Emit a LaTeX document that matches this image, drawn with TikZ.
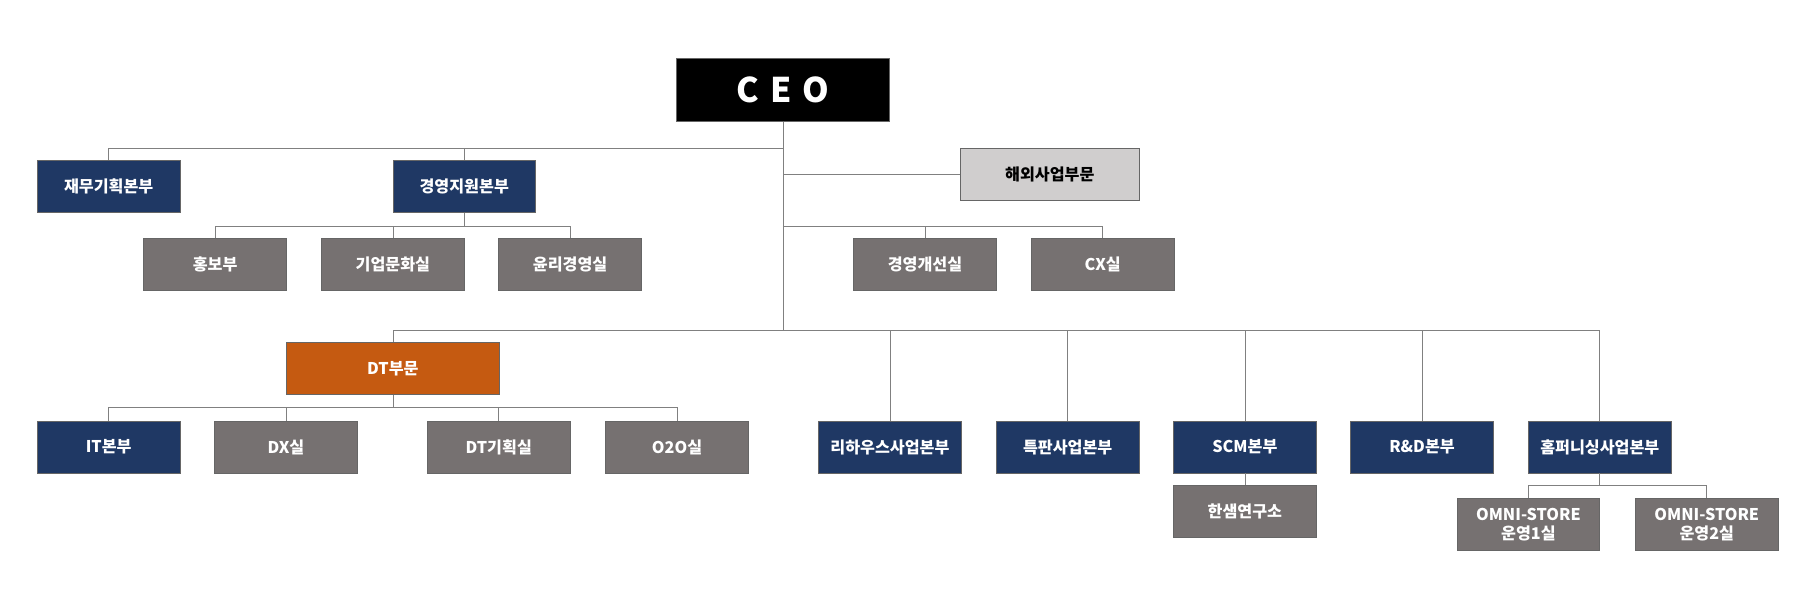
\documentclass[tikz,border=0pt]{standalone}
\usepackage{fontspec}
\newfontfamily\kr{Noto Sans CJK KR}
\usetikzlibrary{positioning}
\begin{document}
\begin{tikzpicture}[x=0.025cm,y=-0.025cm,semithick]
 \tikzset{box/.style={draw=black!60,thin,text=white,font=\kr\bfseries\fontsize{10}{12}\selectfont,minimum width=3.1cm,minimum height=1.13cm,inner sep=1pt,align=center},
   navy/.style={box,fill=navy}, grey/.style={box,fill=grayb},
   link/.style={draw=black!50,thin}}
 \definecolor{navy}{HTML}{1F3864}
 \definecolor{grayb}{HTML}{767171}
 \definecolor{orng}{HTML}{C55A11}
 \definecolor{lgray}{HTML}{D0CECE}
 \useasboundingbox (0,0) rectangle (1568,525);
 				 \node[box,fill=black,minimum width=4.62cm,minimum height=1.38cm,font=\kr\bfseries\fontsize{21}{24}\selectfont] (ceo) at (680.5,78) {C\,\,E\,\,O};
 					 \node[navy] (fin) at (94.5,162) {재무기획본부};
 					 \node[navy] (mgs) at (403.5,162) {경영지원본부};
 					 \node[box,fill=lgray,text=black,minimum width=3.87cm] (ovs) at (912.5,151.5) {해외사업부문};
 					 \node[grey] (pr) at (187,230) {홍보부};
 					 \node[grey] (cul) at (341.5,230) {기업문화실};
 					 \node[grey] (eth) at (495.5,230) {윤리경영실};
 					 \node[grey] (imp) at (804,230) {경영개선실};
 					 \node[grey] (cx) at (958.5,230) {CX실};
 					 \node[box,fill=orng,minimum width=4.62cm] (dt) at (341.5,320.5) {DT부문};
 					 \node[navy] (it) at (94.5,388.5) {IT본부};
 					 \node[grey] (dx) at (248.5,388.5) {DX실};
 					 \node[grey] (dtp) at (433.5,388.5) {DT기획실};
 					 \node[grey] (o2o) at (588.5,388.5) {O2O실};
 					 \node[navy] (reh) at (773.5,388.5) {리하우스사업본부};
 					 \node[navy] (spc) at (928,388.5) {특판사업본부};
 					 \node[navy] (scm) at (1082,388.5) {SCM본부};
 					 \node[navy] (rnd) at (1236,388.5) {R\&D본부};
 					 \node[navy] (hf) at (1390.5,388.5) {홈퍼니싱사업본부};
 					 \node[grey] (lab) at (1082,444.5) {한샘연구소};
 					 \node[grey] (om1) at (1328.5,456) {OMNI-STORE\\운영1실};
 					 \node[grey] (om2) at (1483.5,456) {OMNI-STORE\\운영2실};
 					 \coordinate (t1) at (680.5,129);
 					 \coordinate (t2) at (680.5,197);
 					 \coordinate (t3) at (680.5,287);
 					 \coordinate (m1) at (403.5,197);
 					 \coordinate (d1) at (341.5,354);
 					 \coordinate (h1) at (1390.5,422);
				\path[link]
				(ceo) -- (t3)
				(t1) -| (fin) (t1) -| (mgs)
				(ovs) -- (ovs -| t1)
				(mgs) -- (m1) (m1) -| (pr) (m1) -| (cul) (m1) -| (eth)
				(t2) -| (imp) (t2) -| (cx)
				(t3) -| (dt) (t3) -| (reh) (t3) -| (spc) (t3) -| (scm) (t3) -| (rnd) (t3) -| (hf)
				(dt) -- (d1) (d1) -| (it) (d1) -| (dx) (d1) -| (dtp) (d1) -| (o2o)
				(scm) -- (lab)
				(hf) -- (h1) (h1) -| (om1) (h1) -| (om2);
\end{tikzpicture}
\end{document}
